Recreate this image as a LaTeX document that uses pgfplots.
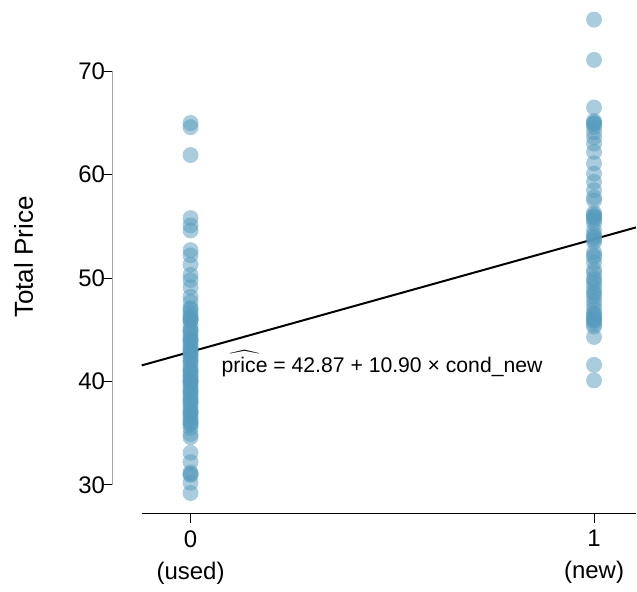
\documentclass[border=0pt]{standalone}
\usepackage{fontspec}
\setmainfont{Liberation Sans}
\usepackage{pgfplots}
\pgfplotsset{compat=1.18}
\definecolor{oiB}{HTML}{569BBD}
\begin{document}
\fontsize{11}{14}\selectfont
\begin{tikzpicture}
\begin{axis}[
  scale only axis, width=262pt, height=257pt,
  xmin=-0.193, xmax=1.104, ymin=27.2, ymax=76.86,
  axis x line*=bottom, axis y line*=left,
  x axis line style={-, black, line width=0.5pt, shorten <=14.5pt},
  y axis line style={-, black!35, line width=0.4pt, shorten <=14.5pt, shorten >=35.5pt},
  xtick={0,1}, xticklabels={{0\\(used)},{1\\(new)}},
  xticklabel style={align=center, font=\fontsize{12}{16}\selectfont},
  yticklabel style={font=\fontsize{12}{14}\selectfont, xshift=4.5pt},
  ytick={30,40,50,60,70},
  tick align=outside, major tick length=4.5pt,
  tick style={black, line width=0.5pt},
  ylabel={Total Price},
  ylabel style={at={(axis description cs:-0.17,0.5)}, anchor=center, inner sep=7.1pt, font=\fontsize{13}{15}\selectfont},
  /pgf/number format/assume math mode=true,
  clip=false,
]
% used (cond_new = 0)
\addplot[only marks, mark=*, mark size=4pt, draw=none, mark options={draw=oiB, draw opacity=0, fill=oiB, fill opacity=0.5}] coordinates {
(0,65) (0,64.6) (0,61.9) (0,55.8) (0,55.1) (0,54.6) (0,52.7) (0,52.2) (0,51.3) (0,50.3)
(0,49.8) (0,49.1) (0,48.2) (0,47.7) (0,47.1) (0,46.4)
(0,34.6) (0,34.9) (0,33.1) (0,32.2) (0,31.2) (0,31) (0,31) (0,30.2) (0,29.2)
(0,46) (0,46) (0,45.5) (0,45) (0,45) (0,44.8) (0,44.5) (0,44) (0,44) (0,43.5)
(0,43.3) (0,43) (0,43) (0,42.5) (0,42.2) (0,42) (0,41.9) (0,41.5) (0,41) (0,41)
(0,40.5) (0,40.1) (0,40) (0,40) (0,39.5) (0,39) (0,39) (0,38.8) (0,38.5) (0,38.1)
(0,38) (0,37.5) (0,37.2) (0,37) (0,37) (0,36.5) (0,36) (0,36) (0,35.5)
(0,45.9) (0,46.2) (0,44.2) (0,42.8) (0,41.2) (0,39.8) (0,38.3) (0,37.8) (0,36.8)
(0,47) (0,46.7) (0,43.8) (0,42.6) (0,40.7) (0,39.3) (0,35.8) (0,36.3) (0,40.4)
};
% new (cond_new = 1)
\addplot[only marks, mark=*, mark size=4pt, draw=none, mark options={draw=oiB, draw opacity=0, fill=oiB, fill opacity=0.5}] coordinates {
(1,75) (1,71.1) (1,66.5) (1,65) (1,65) (1,64.9) (1,64.1) (1,63.6) (1,63) (1,61.1)
(1,60.1) (1,59.3) (1,58.5) (1,57.8) (1,57.5) (1,56.1) (1,56) (1,55.9) (1,55.6) (1,55.3)
(1,54.6) (1,54) (1,53.7) (1,53.5) (1,52.5) (1,52) (1,51.5) (1,50.8) (1,50.5) (1,50)
(1,49.5) (1,49.1) (1,48.7) (1,48.2) (1,47.8) (1,47.4) (1,47) (1,46.6) (1,46.3) (1,46.1)
(1,46) (1,45.8) (1,45.3) (1,44.3) (1,41.6) (1,40.1)
(1,65.2) (1,64.6) (1,56.3) (1,55.8) (1,54.2) (1,53.9) (1,52.2) (1,49.8) (1,48.5) (1,46.5)
(1,45.9) (1,45.5) (1,62.2)
};
% fitted line
\addplot[black, line width=1pt] coordinates {(-0.121,41.55) (1.104,54.90)};
\node[anchor=base west, font=\fontsize{10.6}{12}\selectfont] at (axis cs:0.058,40.9)
  {$\widehat{\mbox{price}}$ = 42.87 + 10.90 × cond\_new};
\end{axis}
\end{tikzpicture}
\end{document}
